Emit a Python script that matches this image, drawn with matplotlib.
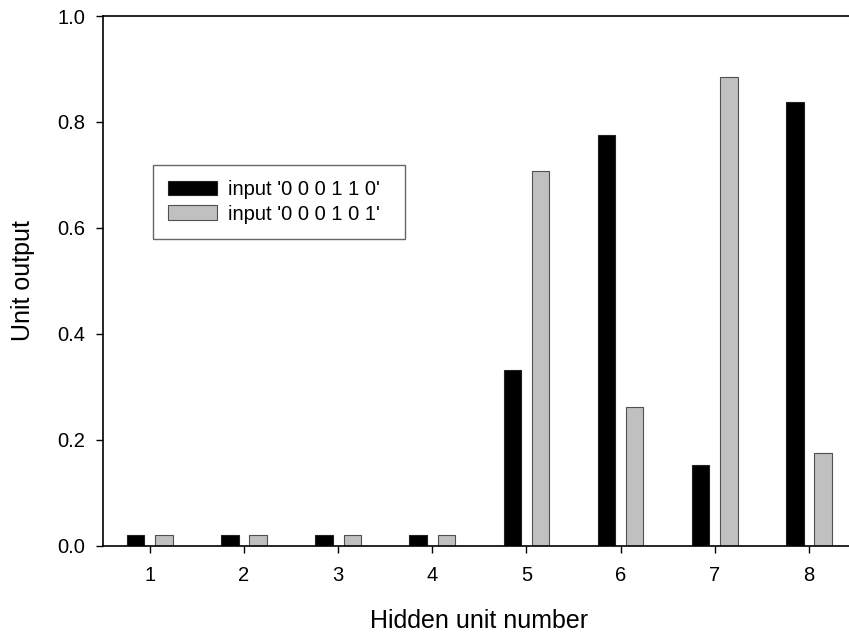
import matplotlib
matplotlib.use("Agg")
import matplotlib.pyplot as plt
import numpy as np

plt.rcParams['font.family'] = ['Liberation Sans', 'DejaVu Sans']

units = [1, 2, 3, 4, 5, 6, 7, 8]
output_110 = [0.019, 0.019, 0.019, 0.019, 0.331, 0.775, 0.152, 0.838]
output_101 = [0.019, 0.019, 0.019, 0.019, 0.707, 0.261, 0.884, 0.175]
label_110 = "input '0 0 0 1 1 0'"
label_101 = "input '0 0 0 1 0 1'"
y_ticks = [0.0, 0.2, 0.4, 0.6, 0.8, 1.0]

W, H = 849, 636
fig = plt.figure(figsize=(W / 100, H / 100), dpi=100)
left, right, bottom, top = 102.7, 856.0, 545.5, 16.0
ax = fig.add_axes([left / W, (H - bottom) / H, (right - left) / W, (bottom - top) / H])

x = np.array(units, dtype=float)
bw = 0.185
ax.bar(x - 0.15, output_110, width=bw, color='black', edgecolor='#222222',
       linewidth=0.8, label=label_110, zorder=2)
ax.bar(x + 0.15, output_101, width=bw, color='#c0c0c0', edgecolor='#505050',
       linewidth=0.8, label=label_101, zorder=2)

ax.set_xlim(0.5, 8.5)
ax.set_ylim(0, 1.0)
ax.set_xticks(units)
ax.set_xticklabels([str(u) for u in units])
ax.set_yticks(y_ticks)
ax.set_yticklabels([f"{t:.1f}" for t in y_ticks])

for side in ('left', 'bottom', 'top'):
    ax.spines[side].set_linewidth(1.2)
    ax.spines[side].set_color('black')
ax.spines['right'].set_visible(False)

ax.tick_params(axis='both', direction='out', length=5, width=1.0, labelsize=14.5,
               colors='black')
ax.tick_params(axis='x', pad=10)
ax.tick_params(axis='y', pad=7.5)

ax.set_xlabel("Hidden unit number", fontsize=18, labelpad=17)
ax.set_ylabel("Unit output", fontsize=18, labelpad=16)

leg = ax.legend(loc='upper left', bbox_to_anchor=(0.0672, 0.6186, 0.334, 0.1),
                mode='expand',
                fontsize=14.5, frameon=True, fancybox=False, shadow=False,
                handlelength=2.4, handleheight=0.75, handletextpad=0.55,
                labelspacing=0.28, borderpad=0.75, borderaxespad=0.0)
leg.get_frame().set_edgecolor('#404040')
leg.get_frame().set_linewidth(1.0)

fig.savefig("out.png", dpi=100)
